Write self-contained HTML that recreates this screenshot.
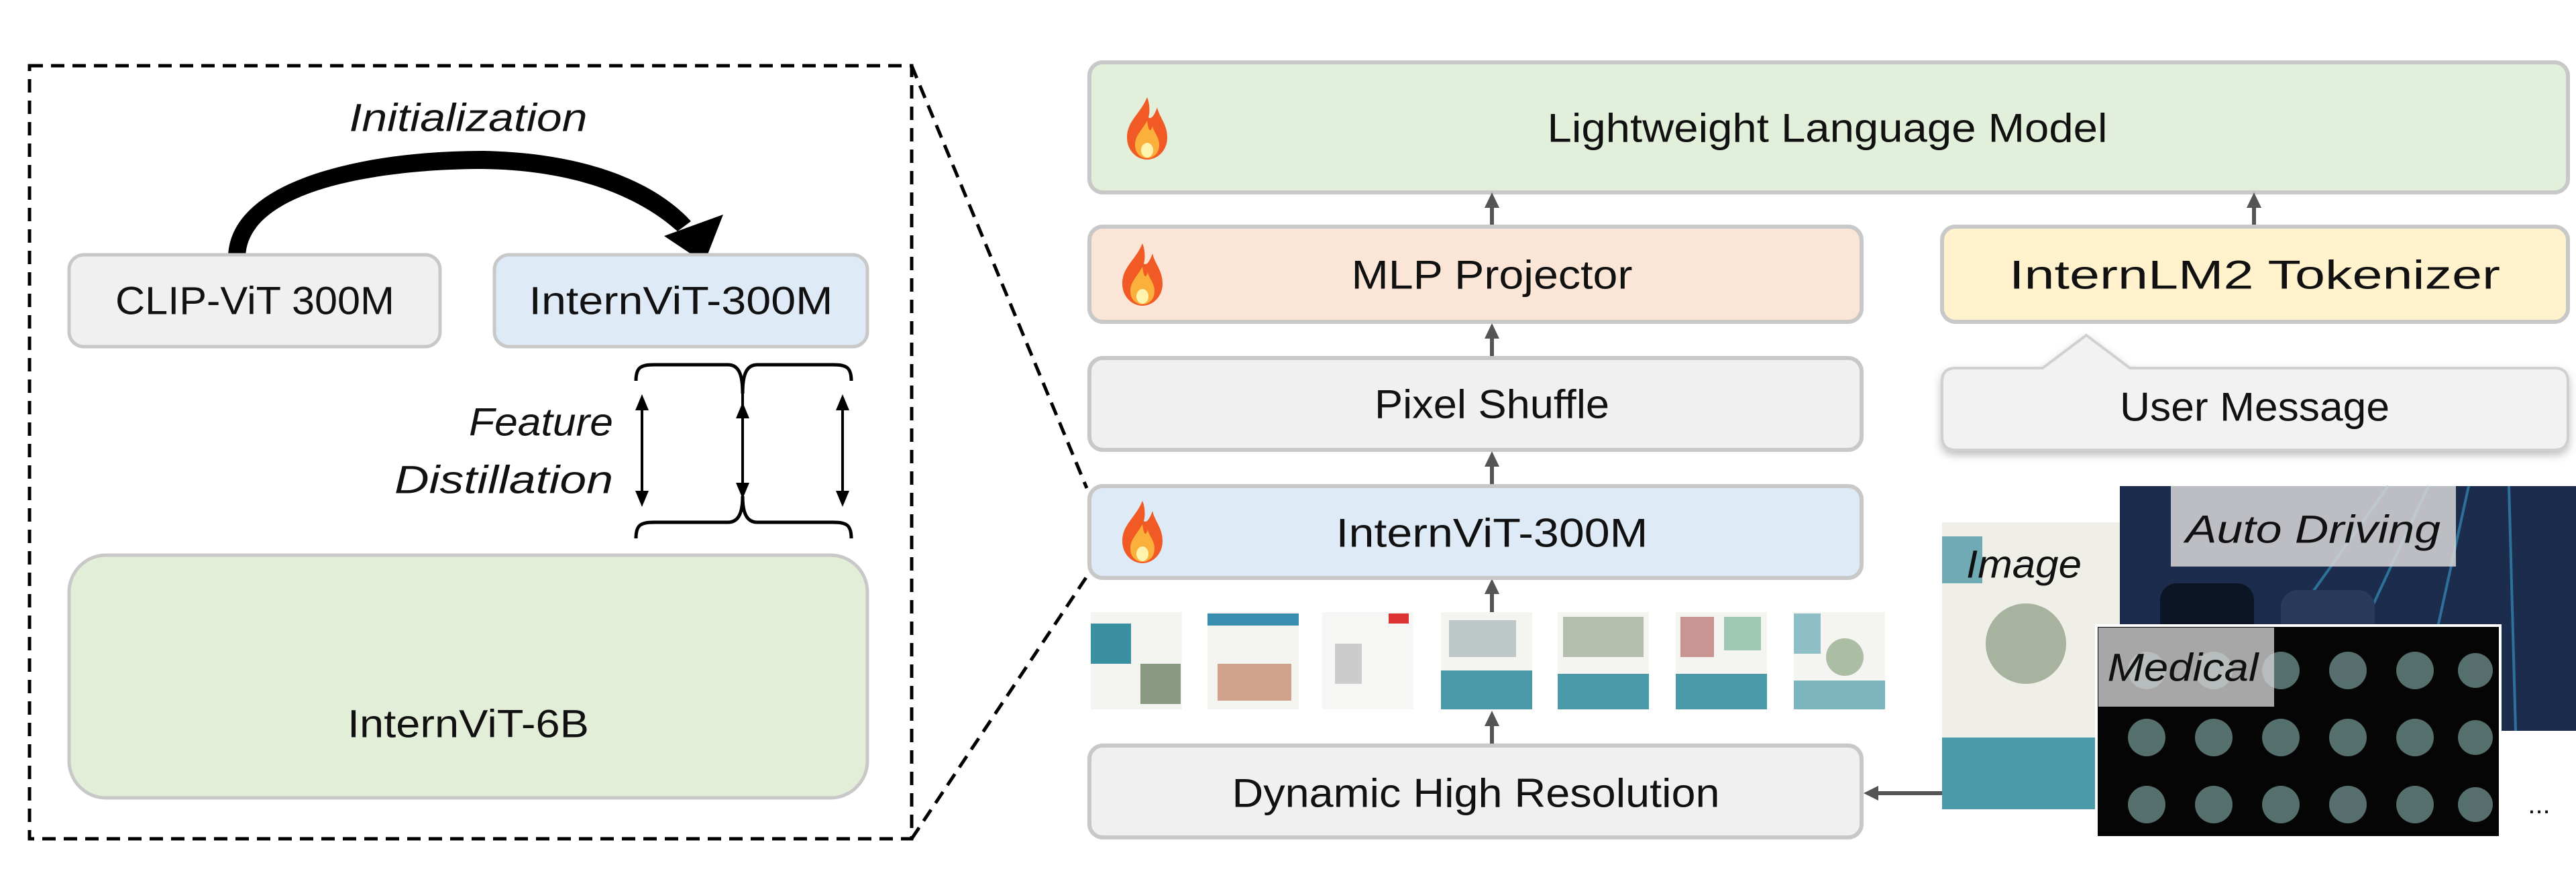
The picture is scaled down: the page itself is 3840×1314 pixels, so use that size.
<!DOCTYPE html>
<html><head><meta charset="utf-8"><style>html,body{margin:0;padding:0;background:#fff}svg{display:block}</style></head>
<body>
<svg width="3840" height="1314" viewBox="0 0 3840 1314" xmlns="http://www.w3.org/2000/svg" font-family="Liberation Sans, sans-serif">
<defs>
<g id="flame">
<path d="M0,-45 C-10,-20 -30,-10 -30,15 C-30,35 -15,48 0,48 C15,48 30,35 30,15 C30,-5 18,-15 15,-30 C10,-15 5,-12 2,-15 C5,-25 3,-38 0,-45Z" fill="#f15a24"/>
<path d="M0,-10 C-8,5 -18,12 -18,26 C-18,40 -8,46 0,46 C8,46 18,40 18,26 C18,14 10,8 8,-2 C5,8 2,6 0,-10Z" fill="#fbb03b"/>
<ellipse cx="0" cy="34" rx="9" ry="11" fill="#fff3b0"/>
</g>
<filter id="sh" x="-5%" y="-10%" width="110%" height="130%"><feDropShadow dx="0" dy="6" stdDeviation="6" flood-color="#000" flood-opacity="0.25"/></filter>
</defs>
<g text-anchor="middle" dominant-baseline="central" fill="#111">
<rect x="44" y="98" width="1315" height="1153" fill="none" stroke="#000" stroke-width="5" stroke-dasharray="20,12"/>
<line x1="1359" y1="98" x2="1620" y2="728" stroke="#000" stroke-width="5" stroke-dasharray="20,12"/>
<line x1="1359" y1="1251" x2="1620" y2="860" stroke="#000" stroke-width="5" stroke-dasharray="20,12"/>
<text x="698" y="176" font-size="58" font-style="italic" textLength="355" lengthAdjust="spacingAndGlyphs">Initialization</text>
<path d="M340,385 L366,385 C366,285 560,252 720,252 C870,254 960,300 1010,345 L1030,330 C980,275 880,228 720,225 C540,225 340,270 340,385Z" fill="#000"/>
<polygon points="990,352 1078,320 1050,392" fill="#000"/>
<rect x="103" y="380" width="553" height="137" rx="22" fill="#f0f0f0" stroke="#c8c8c8" stroke-width="5"/>
<text x="380" y="449" font-size="58" textLength="416" lengthAdjust="spacingAndGlyphs">CLIP-ViT 300M</text>
<rect x="737" y="380" width="556" height="137" rx="22" fill="#deeaf5" stroke="#c8c8c8" stroke-width="5"/>
<text x="1015" y="449" font-size="58" textLength="453" lengthAdjust="spacingAndGlyphs">InternViT-300M</text>
<path d="M948,568 C948,548 955,544 975,544 L1085,544 C1102,544 1107,560 1107,587 C1107,560 1112,544 1129,544 L1242,544 C1262,544 1269,548 1269,568" fill="none" stroke="#000" stroke-width="5"/>
<path d="M948,803 C948,783 955,779 975,779 L1085,779 C1102,779 1107,763 1107,740 C1107,763 1112,779 1129,779 L1242,779 C1262,779 1269,783 1269,803" fill="none" stroke="#000" stroke-width="5"/>
<g stroke="#000" stroke-width="4">
<line x1="957" y1="600" x2="957" y2="745"/><line x1="1107" y1="587" x2="1107" y2="745"/><line x1="1256" y1="600" x2="1256" y2="745"/></g>
<g fill="#000">
<polygon points="957,588 947,612 967,612"/><polygon points="957,756 947,732 967,732"/>
<polygon points="1107,600 1097,624 1117,624"/><polygon points="1107,744 1097,720 1117,720"/>
<polygon points="1256,588 1246,612 1266,612"/><polygon points="1256,756 1246,732 1266,732"/></g>
<text x="914" y="630" font-size="58" font-style="italic" text-anchor="end" textLength="215" lengthAdjust="spacingAndGlyphs">Feature</text>
<text x="914" y="716" font-size="58" font-style="italic" text-anchor="end" textLength="326" lengthAdjust="spacingAndGlyphs">Distillation</text>
<rect x="103" y="828" width="1190" height="362" rx="55" fill="#e2eed8" stroke="#c8c8c8" stroke-width="5"/>
<text x="698" y="1080" font-size="58" textLength="360" lengthAdjust="spacingAndGlyphs">InternViT-6B</text>

<rect x="1624" y="93" width="2204" height="194" rx="20" fill="#e2efda" stroke="#c8c8c8" stroke-width="6"/>
<use href="#flame" x="1710" y="190"/>
<text x="2724" y="191" font-size="60" textLength="835" lengthAdjust="spacingAndGlyphs">Lightweight Language Model</text>
<g stroke="#555" stroke-width="6"><line x1="2224" y1="338" x2="2224" y2="300"/><line x1="3360" y1="338" x2="3360" y2="300"/>
<line x1="2224" y1="534" x2="2224" y2="495"/><line x1="2224" y1="725" x2="2224" y2="685"/><line x1="2224" y1="1112" x2="2224" y2="1070"/><line x1="2224" y1="913" x2="2224" y2="875"/>
<line x1="2895" y1="1183" x2="2790" y2="1183"/></g>
<g fill="#555"><polygon points="2224,287 2213,310 2235,310"/><polygon points="3360,287 3349,310 3371,310"/>
<polygon points="2224,482 2213,505 2235,505"/><polygon points="2224,673 2213,696 2235,696"/><polygon points="2224,863 2213,886 2235,886"/><polygon points="2224,1060 2213,1083 2235,1083"/>
<polygon points="2778,1183 2800,1172 2800,1194"/></g>
<rect x="1624" y="338" width="1151" height="142" rx="20" fill="#fbe5d6" stroke="#c8c8c8" stroke-width="6"/>
<use href="#flame" x="1703" y="408"/>
<text x="2224" y="410" font-size="60" textLength="419" lengthAdjust="spacingAndGlyphs">MLP Projector</text>
<rect x="2895" y="338" width="933" height="142" rx="20" fill="#fff2cc" stroke="#c8c8c8" stroke-width="6"/>
<text x="3361" y="410" font-size="60" textLength="732" lengthAdjust="spacingAndGlyphs">InternLM2 Tokenizer</text>
<rect x="1624" y="534" width="1151" height="137" rx="20" fill="#f0f0f0" stroke="#c8c8c8" stroke-width="6"/>
<text x="2224" y="603" font-size="60" textLength="350" lengthAdjust="spacingAndGlyphs">Pixel Shuffle</text>
<path d="M2915,549 L3045,549 L3110,500 L3175,549 L3808,549 Q3828,549 3828,569 L3828,651 Q3828,671 3808,671 L2915,671 Q2895,671 2895,651 L2895,569 Q2895,549 2915,549Z" fill="#f2f2f2" stroke="#d0d0d0" stroke-width="4" filter="url(#sh)"/>
<text x="3361" y="607" font-size="60" textLength="402" lengthAdjust="spacingAndGlyphs">User Message</text>
<rect x="1624" y="725" width="1151" height="137" rx="20" fill="#deebf7" stroke="#c8c8c8" stroke-width="6"/>
<use href="#flame" x="1703" y="792"/>
<text x="2224" y="795" font-size="60" textLength="465" lengthAdjust="spacingAndGlyphs">InternViT-300M</text>
<rect x="1624" y="1112" width="1151" height="137" rx="20" fill="#f0f0f0" stroke="#c8c8c8" stroke-width="6"/>
<text x="2200" y="1183" font-size="60" textLength="727" lengthAdjust="spacingAndGlyphs">Dynamic High Resolution</text>

<g>
<rect x="1626" y="913" width="136" height="145" fill="#f4f4f0"/><rect x="1626" y="930" width="60" height="60" fill="#3a8fa0"/><rect x="1700" y="990" width="60" height="60" fill="#8a9a80"/>
<rect x="1800" y="913" width="136" height="145" fill="#f4f4f0"/><rect x="1800" y="915" width="136" height="18" fill="#3a8fb0"/><rect x="1815" y="990" width="110" height="55" fill="#b86a4a" opacity=".6"/>
<rect x="1971" y="913" width="136" height="145" fill="#f6f6f4"/><rect x="1990" y="960" width="40" height="60" fill="#ccc"/><rect x="2070" y="915" width="30" height="15" fill="#d33"/>
<rect x="2148" y="913" width="136" height="145" fill="#f4f4f0"/><rect x="2148" y="1000" width="136" height="58" fill="#4a9aaa"/><rect x="2160" y="925" width="100" height="55" fill="#9aa" opacity=".6"/>
<rect x="2322" y="913" width="136" height="145" fill="#f4f4f0"/><rect x="2322" y="1005" width="136" height="53" fill="#4a9aaa"/><rect x="2330" y="920" width="120" height="60" fill="#8a9a80" opacity=".6"/>
<rect x="2498" y="913" width="136" height="145" fill="#f4f4f0"/><rect x="2498" y="1005" width="136" height="53" fill="#4a9aaa"/><rect x="2505" y="920" width="50" height="60" fill="#a55" opacity=".6"/><rect x="2570" y="920" width="55" height="50" fill="#6a8" opacity=".6"/>
<rect x="2674" y="913" width="136" height="145" fill="#f4f4f0"/><rect x="2674" y="915" width="40" height="60" fill="#4a9aaa" opacity=".6"/><rect x="2674" y="1015" width="136" height="43" fill="#4a9aaa" opacity=".7"/><circle cx="2750" cy="980" r="28" fill="#7a9a70" opacity=".6"/>
</g>
<rect x="3160" y="725" width="680" height="365" fill="#1b2c4c"/>
<path d="M3300,1090 L3560,725 M3450,1090 L3620,725 M3600,1090 L3680,725 M3750,1090 L3740,725" stroke="#3aa0d0" stroke-width="4" opacity=".6"/>
<rect x="3220" y="870" width="140" height="90" rx="25" fill="#0c1525"/><rect x="3400" y="880" width="140" height="80" rx="25" fill="#2a3a5a"/>
<rect x="2895" y="779" width="265" height="428" fill="#efefe8"/>
<rect x="2895" y="1100" width="265" height="107" fill="#4a9aaa"/><circle cx="3020" cy="960" r="60" fill="#8a9a80" opacity=".7"/>
<rect x="2895" y="800" width="60" height="70" fill="#3a8fa0" opacity=".7"/>
<text x="3017" y="842" font-size="58" font-style="italic" textLength="172" lengthAdjust="spacingAndGlyphs">Image</text>
<rect x="3236" y="725" width="425" height="120" fill="#d8d8d8" opacity=".85"/>
<text x="3448" y="790" font-size="58" font-style="italic" textLength="380" lengthAdjust="spacingAndGlyphs">Auto Driving</text>
<rect x="3125" y="933" width="602" height="316" fill="#050505" stroke="#fff" stroke-width="4"/>
<g fill="#6a8a88" opacity=".8">
<circle cx="3200" cy="1000" r="28"/><circle cx="3300" cy="1000" r="28"/><circle cx="3400" cy="1000" r="28"/><circle cx="3500" cy="1000" r="28"/><circle cx="3600" cy="1000" r="28"/><circle cx="3690" cy="1000" r="26"/>
<circle cx="3200" cy="1100" r="28"/><circle cx="3300" cy="1100" r="28"/><circle cx="3400" cy="1100" r="28"/><circle cx="3500" cy="1100" r="28"/><circle cx="3600" cy="1100" r="28"/><circle cx="3690" cy="1100" r="26"/>
<circle cx="3200" cy="1200" r="28"/><circle cx="3300" cy="1200" r="28"/><circle cx="3400" cy="1200" r="28"/><circle cx="3500" cy="1200" r="28"/><circle cx="3600" cy="1200" r="28"/><circle cx="3690" cy="1200" r="26"/></g>
<rect x="3128" y="936" width="262" height="118" fill="#cfcfcf" opacity=".8"/>
<text x="3254" y="996" font-size="58" font-style="italic" textLength="225" lengthAdjust="spacingAndGlyphs">Medical</text>
<text x="3785" y="1200" font-size="40">...</text>
</g>
</svg>
</body></html>
